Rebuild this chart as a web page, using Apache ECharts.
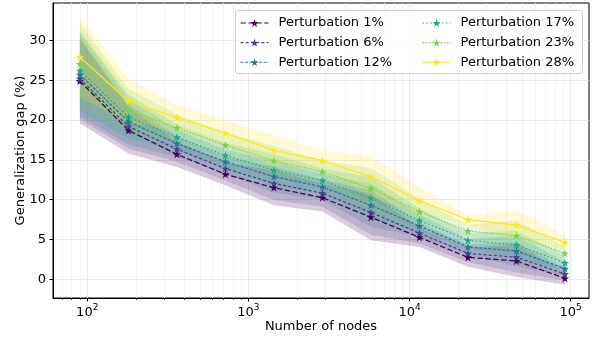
<!DOCTYPE html>
<html>
<head>
<meta charset="utf-8">
<script src="https://cdn.jsdelivr.net/npm/echarts@6/dist/echarts.min.js"></script>
<style>html,body{margin:0;padding:0;background:#fff}#c{width:595px;height:339px}</style>
</head>
<body>
<div id="c"></div>
<script>
// ---- data ----
const nodes = [90, 180, 360, 720, 1440, 2880, 5760, 11520, 23040, 46080, 92160];
const seriesNames = ['Perturbation 1%', 'Perturbation 6%', 'Perturbation 12%', 'Perturbation 17%', 'Perturbation 23%', 'Perturbation 28%'];
const mean1  = [24.9, 18.7, 15.7, 13.2, 11.5, 10.25, 7.8, 5.27, 2.76, 2.3, 0.12];
const mean6  = [25.2, 19.2, 16.35, 13.9, 12.05, 10.8, 8.4, 5.8, 3.26, 2.76, 0.66];
const mean12 = [25.7, 19.8, 17.06, 14.76, 12.9, 11.6, 9.3, 6.7, 4.05, 3.55, 1.33];
const mean17 = [26.2, 20.4, 17.85, 15.56, 13.7, 12.4, 10.2, 7.4, 4.89, 4.3, 2.05];
const mean23 = [27.05, 21.3, 19.0, 16.85, 14.9, 13.5, 11.4, 8.5, 6.06, 5.47, 3.26];
const mean28 = [27.9, 22.4, 20.3, 18.36, 16.2, 14.9, 12.9, 9.9, 7.48, 6.81, 4.64];
const std1  = [5.3, 2.9, 1.6, 1.4, 2.2, 1.75, 2.9, 1.2, 1.2, 2.0, 0.8];
const std6  = [5.1, 2.8, 1.6, 1.5, 2.1, 1.7, 2.8, 1.3, 1.1, 1.9, 0.8];
const std12 = [5.2, 2.9, 1.7, 1.5, 2.0, 1.6, 2.7, 1.4, 1.0, 1.9, 0.9];
const std17 = [5.0, 2.8, 1.6, 1.6, 2.0, 1.5, 2.6, 1.5, 0.9, 1.8, 0.9];
const std23 = [5.1, 2.7, 1.7, 1.6, 1.9, 1.4, 2.6, 1.6, 0.8, 1.9, 0.9];
const std28 = [5.0, 2.8, 1.6, 1.6, 1.9, 1.3, 2.5, 1.7, 0.6, 1.9, 0.9];
const yTicks = [0, 5, 10, 15, 20, 25, 30];
const xMajorTicks = [100, 1000, 10000, 100000];
const xMinorTicks = [70, 80, 90, 200, 300, 400, 500, 600, 700, 800, 900, 2000, 3000, 4000, 5000, 6000, 7000, 8000, 9000, 20000, 30000, 40000, 50000, 60000, 70000, 80000, 90000];

// ---- styles ----
const means = [mean1, mean6, mean12, mean17, mean23, mean28];
const stds = [std1, std6, std12, std17, std23, std28];
const colors = ['#440154', '#414487', '#2a788e', '#22a884', '#7ad151', '#fde725'];
const dashes = [[5.5, 2.4], [3, 2.2], [3, 1.6], [1.5, 2.4], [1.5, 1.5], 'solid'];
const STAR = 'path://M100,0 L122.45,69.1 L195.1,69.1 L136.3,111.8 L158.8,180.9 L100,138.2 L41.2,180.9 L63.7,111.8 L4.9,69.1 L77.55,69.1 Z';
const X_MIN = Math.log10(61.3), X_MAX = Math.log10(130000);
const Y_MIN = -2.35, Y_MAX = 34.7;
const lx = nodes.map(n => Math.log10(n));
const FONT = 'DejaVu Sans';

const series = [];
means.forEach((m, i) => {
  const bandData = m.map((v, j) => [lx[j], v - stds[i][j], v + stds[i][j]]);
  series.push({
    type: 'custom', name: 'band' + i, silent: true, z: 1,
    data: bandData,
    encode: {x: 0, y: [1, 2]},
    renderItem: function (params, api) {
      if (params.dataIndex !== 0) return null;
      const top = bandData.map(d => api.coord([d[0], d[2]]));
      const bot = bandData.map(d => api.coord([d[0], d[1]])).reverse();
      return {
        type: 'polygon',
        shape: {points: top.concat(bot)},
        style: {fill: colors[i], opacity: 0.2, stroke: null}
      };
    }
  });
});
means.forEach((m, i) => {
  series.push({
    type: 'line', name: seriesNames[i], data: m.map((v, j) => [lx[j], v]),
    symbol: STAR, symbolKeepAspect: true, symbolSize: 8.5,
    itemStyle: {color: colors[i]},
    lineStyle: {color: colors[i], width: 1.25, type: dashes[i]},
    z: 3
  });
});

const legendCommon = {
  orient: 'vertical', top: 15.5, padding: 0, itemWidth: 28, itemHeight: 10, itemGap: 4.6,
  lineStyle: {width: 1.1},
  textStyle: {fontFamily: FONT, fontSize: 13, color: '#000', lineHeight: 15, padding: [0, 0, 0, 5]},
  z: 6, selectedMode: false
};

const option = {
  animation: false,
  textStyle: {fontFamily: FONT},
  grid: {left: 53, right: 6, top: 3, bottom: 41, show: true, borderColor: '#000', borderWidth: 1,
    outerBoundsMode: 'none', containLabel: false},
  xAxis: [{
    type: 'value', min: X_MIN, max: X_MAX,
    name: 'Number of nodes', nameLocation: 'middle', nameGap: 22, nameMoveOverlap: false,
    nameTextStyle: {fontFamily: FONT, fontSize: 13, color: '#000'},
    axisLine: {show: true, onZero: false, lineStyle: {color: '#000', width: 1}},
    axisTick: {show: true, length: 3.5, customValues: xMajorTicks.map(v => Math.log10(v)), lineStyle: {color: '#000'}},
    axisLabel: {customValues: xMajorTicks.map(v => Math.log10(v)), margin: 5, color: '#000',
      formatter: v => '{a|10}{b|' + Math.round(v) + '}',
      rich: {
        a: {fontFamily: FONT, fontSize: 13, color: '#000', lineHeight: 16, verticalAlign: 'bottom'},
        b: {fontFamily: FONT, fontSize: 9, color: '#000', lineHeight: 16, verticalAlign: 'top', padding: [0, 0, 6, 0]}
      }},
    splitLine: {show: true, lineStyle: {color: '#e4e4e4', width: 0.8}}
  }, {
    type: 'value', min: X_MIN, max: X_MAX, position: 'bottom',
    axisLine: {show: false, onZero: false},
    axisTick: {show: true, length: 2, customValues: xMinorTicks.map(v => Math.log10(v)), lineStyle: {color: '#000', width: 0.6}},
    axisLabel: {show: false},
    splitLine: {show: true, lineStyle: {color: '#efefef', width: 0.8}}
  }],
  yAxis: {
    type: 'value', min: Y_MIN, max: Y_MAX,
    name: 'Generalization gap (%)', nameLocation: 'middle', nameGap: 26, nameMoveOverlap: false,
    nameTextStyle: {fontFamily: FONT, fontSize: 13, color: '#000'},
    axisLine: {show: true, onZero: false, lineStyle: {color: '#000', width: 1}},
    axisTick: {show: true, length: 3.5, customValues: yTicks, lineStyle: {color: '#000'}},
    axisLabel: {customValues: yTicks, margin: 7, fontFamily: FONT, fontSize: 13, color: '#000'},
    splitLine: {show: true, lineStyle: {color: '#e4e4e4', width: 0.8}}
  },
  graphic: [{
    type: 'rect', left: 235, top: 10, z: 5,
    shape: {width: 347, height: 63, r: 3},
    style: {fill: 'rgba(255,255,255,0.85)', stroke: '#cccccc', lineWidth: 1}
  }],
  legend: [
    Object.assign({}, legendCommon, {left: 240, data: seriesNames.slice(0, 3)}),
    Object.assign({}, legendCommon, {left: 422, data: seriesNames.slice(3, 6)})
  ],
  series: series
};

const chart = echarts.init(document.getElementById('c'), null, {renderer: 'canvas'});
chart.setOption(option);
</script>
</body>
</html>
